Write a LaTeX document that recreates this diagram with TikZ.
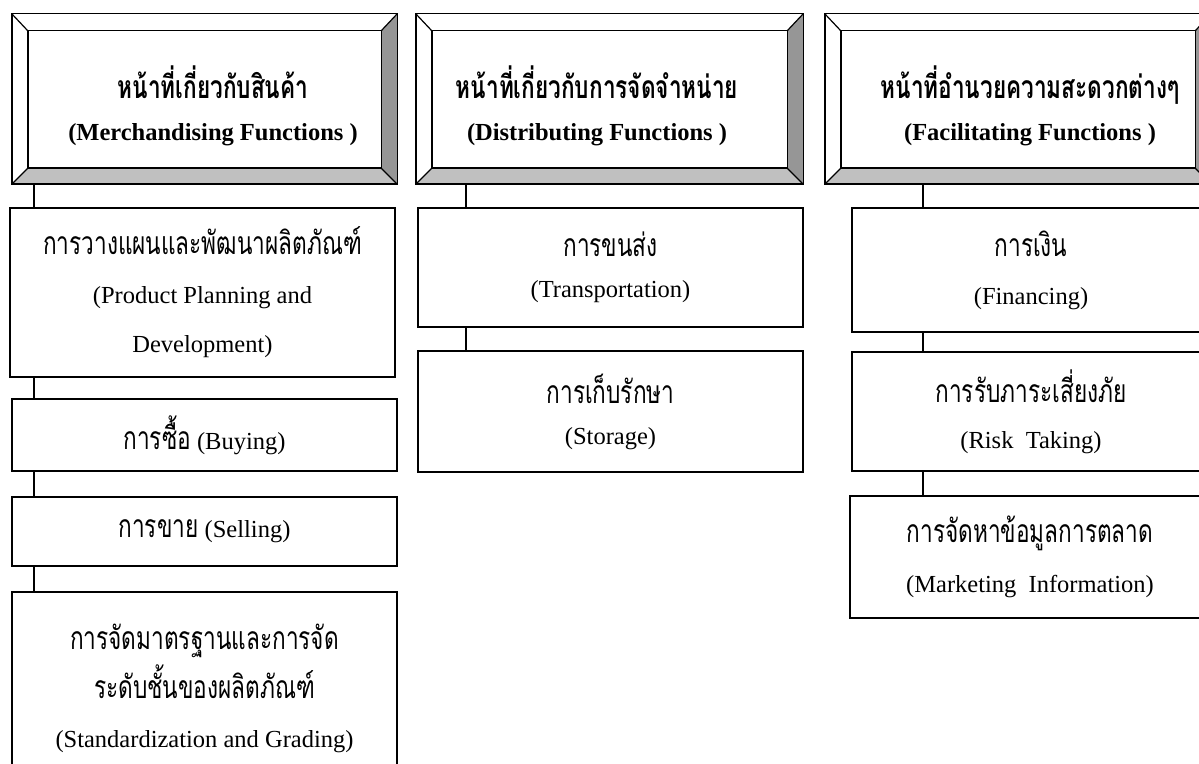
\documentclass[tikz,border=0pt]{standalone}
\usepackage{fontspec}
\setmainfont{Liberation Serif}
\newfontfamily\thaif[Script=Thai,Scale=1.3,FakeStretch=0.71]{Loma}
\usetikzlibrary{calc}
\definecolor{bevbot}{RGB}{192,192,192}
\definecolor{bevright}{RGB}{150,150,150}
\tikzset{
  fbox/.style={draw, line width=1.3pt, rectangle, inner sep=0pt, align=center, fill=white},
  hdrshape/.style={rectangle, inner sep=0pt},
  hdrline/.style={line width=0.9pt},
  diagline/.style={line width=0.6pt},
  hdrtext/.style={align=center, inner sep=0pt, font={\fontsize{12.25pt}{21pt}\selectfont\bfseries}},
  conn/.style={line width=1.3pt},
}
\newcommand\mybox[7]{%
  \node[fbox, minimum width={(#4-#2)*0.5pt}, minimum height={(#5-#3)*0.5pt},
        font={\fontsize{12.25pt}{#6}\selectfont}] (#1) at ({(#2+#4)/2},{(#3+#5)/2}) {#7};}
\newcommand\myhdr[5]{%
  \node[hdrshape, minimum width={(#4-#2)*0.5pt}, minimum height={(#5-#3)*0.5pt}] (#1) at ({(#2+#4)/2},{(#3+#5)/2}) {};
  \coordinate (#1nw) at ($(#1.north west)+(16,17)$);
  \coordinate (#1ne) at ($(#1.north east)+(-16,17)$);
  \coordinate (#1se) at ($(#1.south east)+(-16,-16)$);
  \coordinate (#1sw) at ($(#1.south west)+(16,-16)$);
  \fill[white] (#1.north west) rectangle (#1.south east);
  \fill[bevbot] (#1.south west) -- (#1.south east) -- (#1se) -- (#1sw) -- cycle;
  \fill[bevright] (#1.north east) -- (#1.south east) -- (#1se) -- (#1ne) -- cycle;
  \draw[hdrline] (#1.north west) rectangle (#1.south east);
  \draw[hdrline] (#1nw) rectangle (#1se);
  \draw[diagline] (#1.north west) -- (#1nw) (#1.north east) -- (#1ne)
                  (#1.south east) -- (#1se) (#1.south west) -- (#1sw);}
\begin{document}
\begin{tikzpicture}[x=0.5pt,y=-0.5pt]
\useasboundingbox (0,0) rectangle (1199,764);
\clip (0,0) rectangle (1199,764);
% headers
\myhdr{h1}{12}{14}{397}{184}
\myhdr{h2}{416}{14}{803}{184}
\myhdr{h3}{825}{14}{1211}{184}
\node[hdrtext] (h1t) at (213,106) {{\thaif หน้าที่เกี่ยวกับสินค้า}\\(Merchandising Functions )};
\node[hdrtext] (h2t) at (597,106) {{\thaif หน้าที่เกี่ยวกับการจัดจำหน่าย}\\(Distributing Functions )};
\node[hdrtext] (h3t) at (1030,106) {{\thaif หน้าที่อำนวยความสะดวกต่างๆ}\\(Facilitating Functions )};
% left column
\mybox{b1}{10}{208}{395}{377}{24.5pt}{{\thaif การวางแผนและพัฒนาผลิตภัณฑ์}\\(Product Planning and\\Development)}
\mybox{b2}{12}{399}{397}{471}{24.5pt}{{\thaif การซื้อ} (Buying)}
\mybox{b3}{12}{497}{397}{566}{24.5pt}{{\thaif การขาย} (Selling)}
\mybox{b4}{12}{592}{397}{784}{24.5pt}{{\thaif การจัดมาตรฐานและการจัด}\\{\thaif ระดับชั้นของผลิตภัณฑ์}\\(Standardization and Grading)}
% middle column
\mybox{m1}{418}{208}{803}{327}{20.5pt}{{\thaif การขนส่ง}\\(Transportation)}
\mybox{m2}{418}{351}{803}{472}{20.5pt}{{\thaif การเก็บรักษา}\\(Storage)}
% right column
\mybox{r1}{852}{208}{1210}{332}{24pt}{{\thaif การเงิน}\\(Financing)}
\mybox{r2}{852}{352}{1210}{471}{23pt}{{\thaif การรับภาระเสี่ยงภัย}\\(Risk\ \ Taking)}
\mybox{r3}{850}{496}{1210}{618}{25pt}{{\thaif การจัดหาข้อมูลการตลาด}\\(Marketing\ \ Information)}
% connectors
\coordinate (cL) at (34,0);
\coordinate (cM) at (466,0);
\coordinate (cR) at (923,0);
\draw[conn] (cL |- h1.south) -- (cL |- b1.north);
\draw[conn] (cL |- b1.south) -- (cL |- b2.north);
\draw[conn] (cL |- b2.south) -- (cL |- b3.north);
\draw[conn] (cL |- b3.south) -- (cL |- b4.north);
\draw[conn] (cM |- h2.south) -- (cM |- m1.north);
\draw[conn] (cM |- m1.south) -- (cM |- m2.north);
\draw[conn] (cR |- h3.south) -- (cR |- r1.north);
\draw[conn] (cR |- r1.south) -- (cR |- r2.north);
\draw[conn] (cR |- r2.south) -- (cR |- r3.north);
\end{tikzpicture}
\end{document}
